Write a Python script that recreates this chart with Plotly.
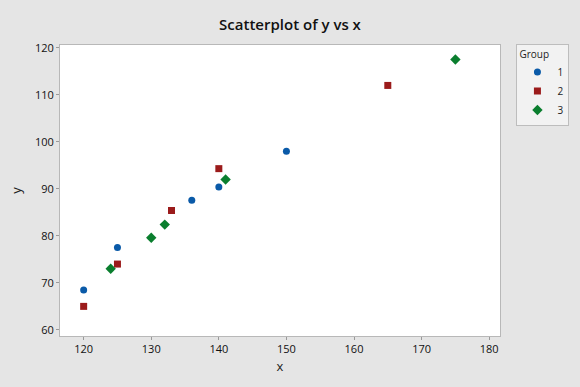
import plotly.graph_objects as go

groups = ["1", "2", "3"]
x1 = [120, 125, 136, 140, 150]
y1 = [68.5, 77.5, 87.6, 90.4, 98.0]
x2 = [120, 125, 133, 140, 165]
y2 = [65.0, 74.0, 85.4, 94.3, 112.0]
x3 = [124, 130, 132, 141, 175]
y3 = [73.0, 79.6, 82.4, 92.0, 117.5]

xticks = [120, 130, 140, 150, 160, 170, 180]
yticks = [60, 70, 80, 90, 100, 110, 120]

styles = [("circle", "#0A5AA8"), ("square", "#9B1B1B"), ("diamond", "#0A7E2E")]
data = [(x1, y1), (x2, y2), (x3, y3)]

fig = go.Figure()
for g, (xs, ys), (sym, col) in zip(groups, data, styles):
    fig.add_trace(go.Scatter(
        x=xs, y=ys, mode="markers", name=g,
        marker=dict(symbol=sym, color=col, size=7 if sym != "diamond" else 8, line=dict(width=0)),
    ))

axis_common = dict(
    showgrid=False, zeroline=False, showline=True, linecolor="#b8b8b8", linewidth=1,
    mirror=True, ticks="outside", ticklen=3, tickcolor="#9a9a9a",
    tickfont=dict(family="Open Sans, sans-serif", size=11, color="#111111"),
)

fig.update_layout(
    width=580, height=387,
    paper_bgcolor="#e5e5e5", plot_bgcolor="white",
    margin=dict(l=60, r=79, t=45, b=51),
    title=dict(text="Scatterplot of y vs x", x=0.5, xanchor="center", y=0.935, yanchor="middle",
               font=dict(family="Open Sans, sans-serif", size=15, color="#111111", weight=600)),
    xaxis=dict(range=[116.5, 181.6], tickvals=xticks,
               title=dict(text="x", font=dict(family="Open Sans, sans-serif", size=13, color="#222222"), standoff=6),
               **axis_common),
    yaxis=dict(range=[58.7, 120.6], tickvals=yticks,
               title=dict(text="y", font=dict(family="Open Sans, sans-serif", size=13, color="#222222"), standoff=10),
               **axis_common),
    legend=dict(title=dict(text="Group", font=dict(family="Open Sans, sans-serif", size=10, color="#222222")),
                font=dict(family="Open Sans, sans-serif", size=10, color="#222222"),
                x=1.035, xanchor="left", y=1.005, yanchor="top",
                bgcolor="#f2f2f2", bordercolor="#bdbdbd", borderwidth=1,
                itemsizing="trace", itemwidth=30, tracegroupgap=0),
    showlegend=True,
)

fig.write_html("out.html")
